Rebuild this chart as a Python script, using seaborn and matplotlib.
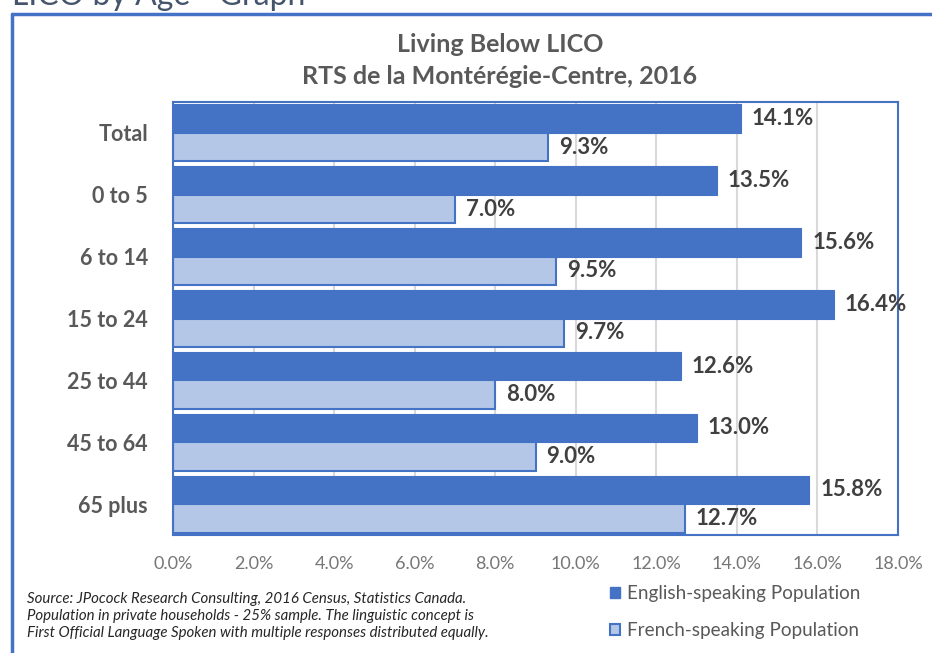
import matplotlib
matplotlib.use("Agg")
import matplotlib.pyplot as plt
import seaborn as sns
import pandas as pd
from matplotlib.patches import Patch
from matplotlib.ticker import FuncFormatter, MultipleLocator

# Chart data
age_groups = ["Total", "0 to 5", "6 to 14", "15 to 24", "25 to 44", "45 to 64", "65 plus"]
english_pct = [14.1, 13.5, 15.6, 16.4, 12.6, 13.0, 15.8]
french_pct = [9.3, 7.0, 9.5, 9.7, 8.0, 9.0, 12.7]
series_names = ["English-speaking Population", "French-speaking Population"]

# Colours
dark_blue = "#4472C4"
light_blue = "#B4C7E7"
text_grey = "#595959"
label_grey = "#404040"

df = pd.DataFrame({
    "Age": age_groups * 2,
    "Pct": english_pct + french_pct,
    "Group": [series_names[0]] * len(age_groups) + [series_names[1]] * len(age_groups),
})

sns.set_style("white")
plt.rcParams["font.family"] = ["Lato", "DejaVu Sans"]

fig = plt.figure(figsize=(9.32, 6.53), dpi=100)
ax = fig.add_axes([173 / 932, 1 - 535 / 653, (898 - 173) / 932, (535 - 102) / 653])

sns.barplot(data=df, y="Age", x="Pct", hue="Group", order=age_groups,
            hue_order=series_names, palette=[dark_blue, light_blue],
            orient="h", width=0.92, ax=ax, legend=False, saturation=1)

# edges: English bars plain, French bars outlined in dark blue
for patch in ax.containers[0]:
    patch.set_edgecolor(dark_blue)
    patch.set_linewidth(0.8)
for patch in ax.containers[1]:
    patch.set_edgecolor(dark_blue)
    patch.set_linewidth(1.5)

for cont in ax.containers:
    ax.bar_label(cont, fmt="%.1f%%", padding=8, fontsize=16, fontweight="bold",
                 color=label_grey)

ax.set_xlim(0, 18)
ax.xaxis.set_major_locator(MultipleLocator(2))
ax.xaxis.set_major_formatter(FuncFormatter(lambda v, p: f"{v:.1f}%"))
ax.grid(axis="x", color="#D9D9D9", linewidth=1.5)
ax.set_axisbelow(True)
ax.set_xlabel("")
ax.set_ylabel("")

for side in ["left", "right", "top", "bottom"]:
    ax.spines[side].set_visible(True)
    ax.spines[side].set_color(dark_blue)
    ax.spines[side].set_linewidth(1.5)

ax.tick_params(axis="x", colors=dark_blue, direction="out", length=6, width=1.5,
               labelcolor="#767676", labelsize=13, pad=9)
ax.tick_params(axis="y", length=0, labelsize=15.5, labelcolor=text_grey, pad=18)
for lbl in ax.get_yticklabels():
    lbl.set_fontweight("bold")

# titles
title_x = 500 / 932
fig.text(title_x, 1 - 45 / 653, "Living Below LICO", ha="center", va="center",
         fontsize=18, fontweight="bold", color=text_grey)
fig.text(title_x, 1 - 76 / 653, "RTS de la Montérégie-Centre, 2016", ha="center",
         va="center", fontsize=18, fontweight="bold", color=text_grey)

# header text cut off at top of image (as in the source screenshot)
fig.text(12 / 932, 1 + 4 / 653, "LICO by Age - Graph", ha="left", va="center",
         fontsize=23, color="#44546A")

# outer frame (left and top edges visible)
fig.add_artist(plt.Line2D([12 / 932, 12 / 932], [1 - 14 / 653, 0], color=dark_blue,
                          linewidth=2.5, transform=fig.transFigure))
fig.add_artist(plt.Line2D([12 / 932, 1], [1 - 14 / 653, 1 - 14 / 653], color=dark_blue,
                          linewidth=2.5, transform=fig.transFigure))

# source note
fig.text(27 / 932, 1 - 616 / 653,
         "Source: JPocock Research Consulting, 2016 Census, Statistics Canada.\n"
         "Population in private households - 25% sample. The linguistic concept is\n"
         "First Official Language Spoken with multiple responses distributed equally.",
         ha="left", va="center", fontsize=10.8, style="italic", color="#262626",
         linespacing=1.25)

# legend
handles = [Patch(facecolor=dark_blue, edgecolor=dark_blue, linewidth=1),
           Patch(facecolor=light_blue, edgecolor=dark_blue, linewidth=1.5)]
fig.legend(handles, series_names, loc="center left",
           bbox_to_anchor=(593 / 932, 1 - 612 / 653), frameon=False, fontsize=13.6,
           labelcolor=text_grey, handlelength=0.55, handleheight=0.55,
           handletextpad=0.35, labelspacing=1.05)

fig.savefig("out.png", dpi=100)
